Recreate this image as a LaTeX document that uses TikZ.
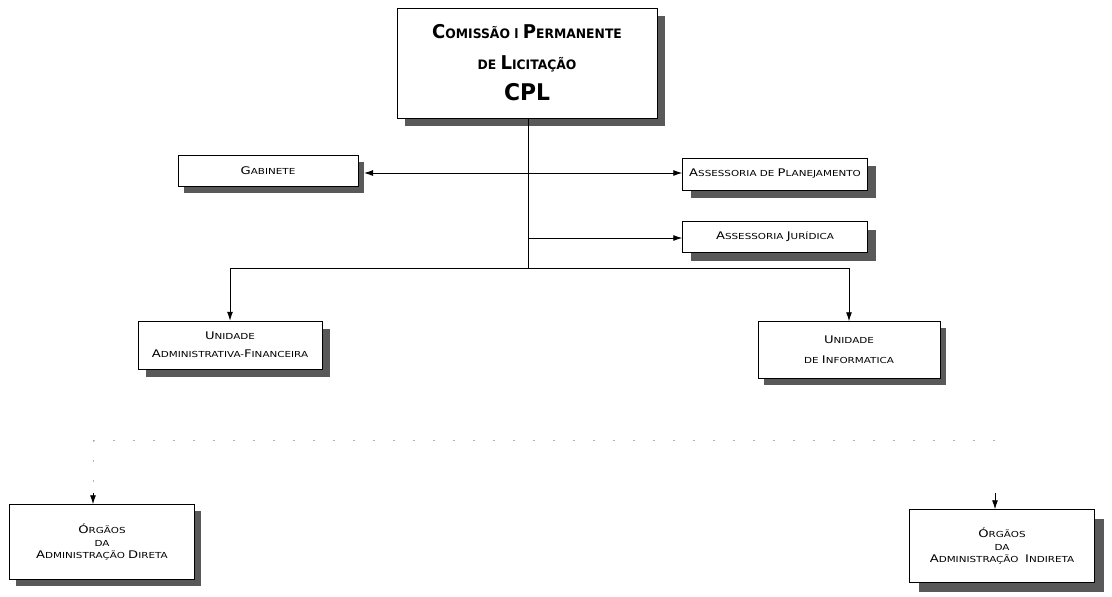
\documentclass[tikz,border=0pt]{standalone}
\usepackage{fontspec}
\setmainfont{DejaVu Sans}[FakeStretch=1.25]
\newfontfamily\titlefont{DejaVu Sans}[FakeStretch=0.95]
\usetikzlibrary{arrows.meta,shadows,calc}
\newcommand\Bg[1]{{\fontsize{10.5}{11}\selectfont #1}}
\newcommand\Tb[1]{{\fontsize{19}{20}\selectfont #1}}
\begin{document}
\begin{tikzpicture}[x=1pt,y=-1pt,
  box/.style={draw=black,line width=0.5pt,fill=white,align=center,inner sep=0pt,
     font=\fontsize{8.3}{12.5}\selectfont,
     drop shadow={shadow xshift=#1,shadow yshift=-#1,fill=black!65,opacity=1}},
  box/.default=7pt,
  conn/.style={line width=0.9pt,black},
  arr/.style={conn,-{Latex[length=9pt,width=6pt]}},
  faint/.style={line width=0.6pt,black!30,dash pattern=on 2pt off 18pt}]
\useasboundingbox (0,0) rectangle (1112,597);
% nodes
\node[box=8pt,minimum width=260,minimum height=110,
  font=\titlefont\bfseries\fontsize{13}{31}\selectfont] (cpl) at (527,63)
  {\Tb{C}OMISSÃO l \Tb{P}ERMANENTE\\ DE \Tb{L}ICITAÇÃO\\ {\fontsize{23}{24}\selectfont CPL}};
\node[box=6pt,minimum width=180,minimum height=31] (gab) at (268,171) {\Bg{G}ABINETE};
\node[box=8pt,minimum width=185,minimum height=32] (plan) at (775,174) {\Bg{A}SSESSORIA DE \Bg{P}LANEJAMENTO};
\node[box=8pt,minimum width=185,minimum height=31] (jur) at (775,237) {\Bg{A}SSESSORIA \Bg{J}URÍDICA};
\node[box=8pt,minimum width=184,minimum height=48,font=\fontsize{8.3}{18}\selectfont] (uaf) at (230,345)
  {\Bg{U}NIDADE\\ \Bg{A}DMINISTRATIVA-\Bg{F}INANCEIRA};
\node[box=6pt,minimum width=182,minimum height=57,font=\fontsize{8.3}{20}\selectfont] (uinf) at (849,350)
  {\Bg{U}NIDADE\\ DE \Bg{I}NFORMATICA};
\node[box=6pt,minimum width=185,minimum height=75] (ord) at (102,542)
  {\Bg{Ó}RGÃOS\\ DA\\ \Bg{A}DMINISTRAÇÃO \Bg{D}IRETA};
\node[box=9pt,minimum width=185,minimum height=73] (ori) at (1002,546)
  {\Bg{Ó}RGÃOS\\ DA\\ \Bg{A}DMINISTRAÇÃO \ \Bg{I}NDIRETA};
% connectors
\coordinate (top) at (528,118);
\coordinate (hub) at (528,268);
\coordinate (mid) at (528,173);
\coordinate (jj) at (528,238);
\coordinate (gabe) at (364,173);
\draw[conn] (top) -- (hub);
\draw[conn,{Latex[length=9pt,width=6pt]}-{Latex[length=9pt,width=6pt]}] (gabe) -- (plan.west|-mid);
\draw[arr] (jj) -- (jur.west|-jj);
\draw[arr] (hub) -| (uaf.north);
\draw[arr] (hub) -| (uinf.north);
% faint lower connectors
\coordinate (fl) at (93,440);
\coordinate (fr) at (995,440);
\coordinate (fl2) at (93,490);
\coordinate (al) at (93,493);
\coordinate (ar) at (995,493);
\draw[faint] (fl) -- (fr);
\draw[faint] (fl) -- (fl2);
\draw[arr] (al) -- (al|-ord.north);
\draw[arr] (ar) -- (ar|-ori.north);
\end{tikzpicture}
\end{document}
